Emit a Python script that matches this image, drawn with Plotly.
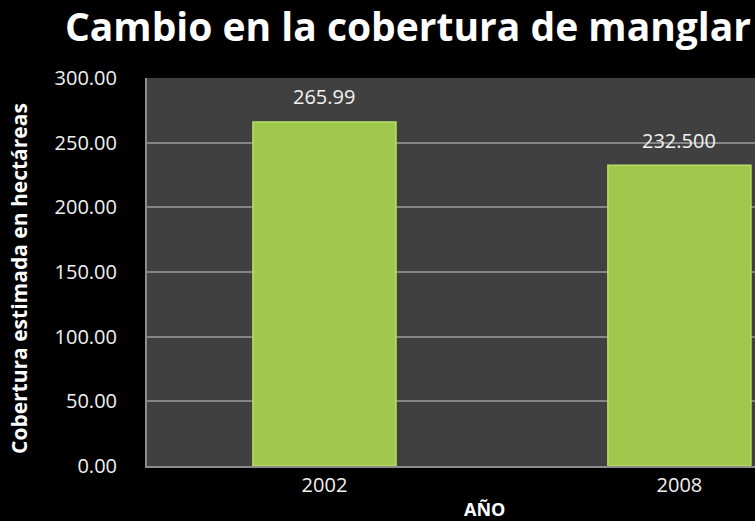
import plotly.graph_objects as go

years = ["2002", "2008"]
values = [265.99, 232.5]
value_labels = ["265.99", "232.500"]
y_ticks = [0, 50, 100, 150, 200, 250, 300]
y_tick_labels = ["0.00", "50.00", "100.00", "150.00", "200.00", "250.00", "300.00"]

FONT = "Open Sans"
fig = go.Figure()
fig.add_trace(go.Bar(
    x=[0, 1], y=values, width=0.403,
    marker=dict(color="#9fc84d", line=dict(color="#b8e066", width=1.5)),
    hoverinfo="skip",
))
for i, (v, t) in enumerate(zip(values, value_labels)):
    fig.add_annotation(x=i, y=v, text=t, showarrow=False, yshift=25,
                       font=dict(family=FONT, size=20, color="#f2f2f2"))

fig.add_annotation(xref="paper", yref="paper", x=(484 - 147) / 608, y=-(509 - 466) / 388,
                   yanchor="middle", text="<b>AÑO</b>", showarrow=False,
                   font=dict(family=FONT, size=18, color="white"))
fig.add_annotation(xref="paper", yref="paper", x=(19 - 147) / 608, y=(466 - 279) / 388,
                   xanchor="center", yanchor="middle", textangle=-90,
                   text="<b>Cobertura estimada en hectáreas</b>", showarrow=False,
                   font=dict(family=FONT, size=21, color="white"))

fig.update_layout(
    width=755, height=521,
    paper_bgcolor="black", plot_bgcolor="#404040",
    margin=dict(l=147, r=0, t=78, b=55, autoexpand=False),
    showlegend=False,
    title=dict(text="<b>Cambio en la cobertura de manglar</b>",
               x=408 / 755, xref="container", xanchor="center",
               y=1 - 27 / 521, yref="container", yanchor="middle",
               font=dict(family=FONT, size=39, color="white")),
    xaxis=dict(range=[-0.5, 1.213], tickvals=[0, 1], ticktext=years,
               showgrid=False, zeroline=False, showline=True, linecolor="#8c8c8c",
               linewidth=2, ticks="", tickfont=dict(family=FONT, size=20, color="#f0f0f0")),
    yaxis=dict(range=[0, 300], tickvals=y_ticks, ticktext=y_tick_labels,
               gridcolor="#858585", gridwidth=1.5, zeroline=False,
               showline=True, linecolor="#8c8c8c", linewidth=2, ticks="",
               ticklabelstandoff=24,
               tickfont=dict(family=FONT, size=20, color="#f0f0f0")),
)
fig.write_html("out.html", config={"displayModeBar": False},
               post_script="document.body.style.margin='0';document.body.style.background='black';")
